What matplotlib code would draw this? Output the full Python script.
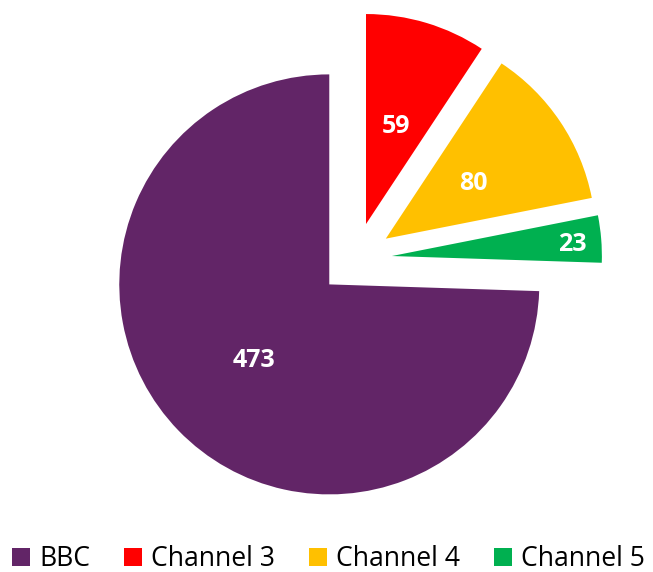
import matplotlib.pyplot as plt
from matplotlib.lines import Line2D
import numpy as np

# datos
canales = ['BBC', 'Channel 3', 'Channel 4', 'Channel 5']
valores = [473, 59, 80, 23]
colores = ['#622567', '#FF0000', '#FFC000', '#00B050']

plt.rcParams['font.family'] = ['Open Sans', 'DejaVu Sans']

W, H = 653, 572
fig = plt.figure(figsize=(W / 100, H / 100), dpi=100)
ax = fig.add_axes([0, 0, 1, 1])

radio = 210
centro = (355.5, H - 259)
# BBC termina justo en las 12, el resto sigue en sentido horario
inicio = 90 + 360 * valores[0] / sum(valores)
# explode en unidades de datos (pixeles aqui)
wedges, _ = ax.pie(valores, colors=colores, explode=[36.5] * 4, radius=radio,
                   center=centro, startangle=inicio, counterclock=False,
                   wedgeprops=dict(linewidth=0))

dist_etq = [0.5, 0.5, 0.5, 0.86]
for w, v, d in zip(wedges, valores, dist_etq):
    ang = np.deg2rad((w.theta1 + w.theta2) / 2)
    cx, cy = w.center
    ax.text(cx + d * radio * np.cos(ang), cy + d * radio * np.sin(ang), str(v),
            color='white', fontsize=18, fontweight='bold',
            ha='center', va='center_baseline')

ax.set_xlim(0, W)
ax.set_ylim(0, H)
ax.set_aspect('equal')
ax.axis('off')

handles = [Line2D([], [], linestyle='none', marker='s', markersize=13,
                  markerfacecolor=c, markeredgewidth=0) for c in colores]
fig.legend(handles, canales, loc='lower left', bbox_to_anchor=(12 / W, -1 / H),
           ncol=4, frameon=False, fontsize=19.1, handlelength=0.7,
           handletextpad=0.33, columnspacing=1.27, borderpad=0, borderaxespad=0)

fig.savefig('out.png', dpi=100)
